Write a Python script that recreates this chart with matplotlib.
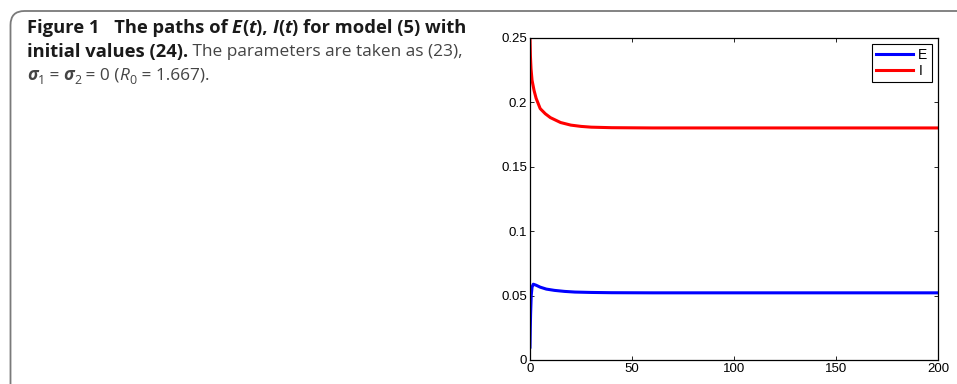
import matplotlib
matplotlib.use("Agg")
import matplotlib.pyplot as plt
import numpy as np
from matplotlib.path import Path
from matplotlib.patches import PathPatch

# ---- data ----
t_I = [0, 0.2, 0.5, 1, 2, 3, 5, 7.5, 10, 15, 20, 25, 30, 40, 60, 100, 150, 200]
I_vals = [0.25, 0.236, 0.226, 0.217, 0.209, 0.203, 0.195, 0.191, 0.188, 0.1842, 0.1822,
          0.1812, 0.1806, 0.1802, 0.1800, 0.1800, 0.1800, 0.1800]
t_E = [0, 0.15, 0.3, 0.6, 1.0, 1.6, 3, 5, 8, 12, 17, 22, 30, 40, 60, 100, 150, 200]
E_vals = [0.010, 0.025, 0.036, 0.050, 0.0565, 0.0588, 0.0580, 0.0565, 0.0550, 0.0540,
          0.0532, 0.0527, 0.0524, 0.0522, 0.0521, 0.0521, 0.0521, 0.0521]
x_ticks = [0, 50, 100, 150, 200]
y_ticks = [0, 0.05, 0.1, 0.15, 0.2, 0.25]
y_tick_labels = ["0", "0.05", "0.1", "0.15", "0.2", "0.25"]
series_labels = ["E", "I"]

W, H = 957, 384
fig = plt.figure(figsize=(W / 100, H / 100), dpi=100)

def fx(px):
    return px / W

def fy(py):
    return 1 - py / H

# ---- rounded caption frame ----
r = 14
x0, y0 = 10.5, 11
verts = [(fx(x0), fy(H + 2)), (fx(x0), fy(y0 + r)), (fx(x0), fy(y0)), (fx(x0 + r), fy(y0)), (fx(W + 2), fy(y0))]
codes = [Path.MOVETO, Path.LINETO, Path.CURVE3, Path.CURVE3, Path.LINETO]
fig.patches.append(PathPatch(Path(verts, codes), transform=fig.transFigure, fill=False,
                             edgecolor="#7a7a7a", linewidth=1.3))

# ---- axes ----
ax = fig.add_axes([530 / W, 1 - 360 / H, (938 - 530) / W, (360 - 37.7) / H])
ax.plot(t_E, E_vals, color="#0000ff", lw=2.2, label=series_labels[0])
ax.plot(t_I, I_vals, color="#ff0000", lw=2.2, label=series_labels[1])
ax.set_xlim(0, 200)
ax.set_ylim(0, 0.25)
ax.set_xticks(x_ticks)
ax.set_xticklabels([str(v) for v in x_ticks])
ax.set_yticks(y_ticks)
ax.set_yticklabels(y_tick_labels)
ax.tick_params(direction="in", top=True, right=True, length=3, width=0.6,
               labelsize=9.5, pad=2)
for lab in ax.get_xticklabels() + ax.get_yticklabels():
    lab.set_family("Liberation Sans")
for s in ax.spines.values():
    s.set_linewidth(0.9)
leg = ax.legend(loc="upper right", fancybox=False, framealpha=1, edgecolor="black",
                prop={"family": "Liberation Sans", "size": 10}, handlelength=2.7,
                handletextpad=0.35, borderpad=0.3, labelspacing=0.12,
                borderaxespad=0.45)
leg.get_frame().set_linewidth(0.8)

# ---- caption text runs ----
renderer = fig.canvas.get_renderer()
FAM = "Open Sans"
SIZE = 13.2
NSIZE = 12.4
BLK = "#1a1a1a"
GRY = "#444444"

def width_of(s, **kw):
    t1 = fig.text(0, 0, s + "|", **kw)
    t2 = fig.text(0, 0, "|", **kw)
    w = t1.get_window_extent(renderer).width - t2.get_window_extent(renderer).width
    t1.remove(); t2.remove()
    return w

def draw_runs(x, y, runs):
    for run in runs:
        s = run[0]
        kw = dict(family=FAM, size=SIZE, color=BLK, weight="normal", style="normal")
        kw.update(run[1])
        dy = kw.pop("dy", 0)
        fig.text(fx(x), fy(y + dy), s, va="baseline", ha="left", **kw)
        x += width_of(s, **kw)

B = dict(weight="bold")
BI = dict(weight="bold", style="italic")
N = dict(color=GRY, size=NSIZE)
NI = dict(color=GRY, style="italic", size=NSIZE)
SUB = dict(color=GRY, size=NSIZE * 0.72, dy=3.5)
SIG = dict(color=GRY, style="italic", weight="bold", size=NSIZE)

draw_runs(27, 33, [("Figure 1", B), ("   The paths of ", B), ("E", BI), ("(", B), ("t", BI),
                   ("), ", B), ("I", BI), ("(", B), ("t", BI), (") for model (5) with", B)])
draw_runs(27, 56.5, [("initial values (24).", B), (" The parameters are taken as (23),", N)])
draw_runs(27, 80, [("σ", SIG), ("1", SUB), (" = ", N), ("σ", SIG), ("2", SUB),
                   (" = 0 (", N), ("R", NI), ("0", SUB), (" = 1.667).", N)])

fig.savefig("out.png", dpi=100)
